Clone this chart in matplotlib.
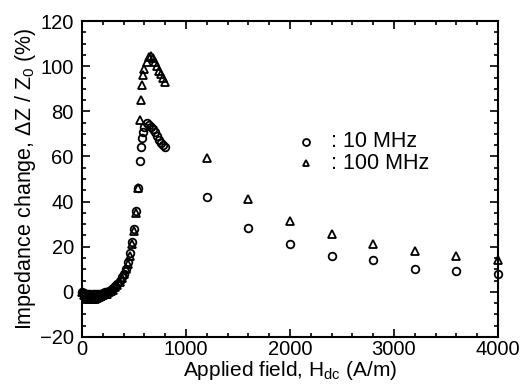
import numpy as np
import matplotlib.pyplot as plt
from matplotlib.ticker import MultipleLocator

plt.rcParams['font.family'] = ['Liberation Sans', 'DejaVu Sans']
plt.rcParams['mathtext.fontset'] = 'custom'
plt.rcParams['mathtext.rm'] = 'Liberation Sans'
plt.rcParams['mathtext.it'] = 'Liberation Sans'

# --- data ---
h_low = [0, 20, 40, 60, 80, 100, 120, 140, 160, 180, 200, 220, 240, 260, 280,
         300, 320, 340, 360, 380, 400, 420, 440, 460, 480, 500, 520, 540, 560,
         570, 580, 590, 600, 620, 640, 660, 680, 700, 720, 740, 760, 780, 800]

z10_low = [0, -0.5, -1, -1, -1.2, -1.2, -1.2, -1, -1, -0.8, -0.5, -0.2, 0, 0.5, 1,
           1.5, 2.5, 3.5, 5, 6.5, 8, 10, 13, 17, 22, 28, 36, 46, 58,
           64, 68, 71, 73, 75, 74, 73, 72, 71, 69, 67.5, 66, 65, 64]

z100_low = [0, -1.5, -2.5, -3, -3.2, -3.2, -3, -2.8, -2.5, -2, -1.6, -1.2, -0.8, -0.3, 0.3,
            1, 2, 3, 4.5, 6, 8, 10, 12.5, 16, 21, 27, 35, 46, 76,
            85, 91.5, 96, 99, 102, 104, 104.5, 103.5, 102, 100, 98, 96.5, 95, 93]

h_high = [1200, 1600, 2000, 2400, 2800, 3200, 3600, 4000]
z10_high = [42, 28.5, 21, 16, 14, 10, 9, 8]
z100_high = [59.5, 41, 31.5, 25.5, 21, 18, 16, 14]

h_all = h_low + h_high
z10 = z10_low + z10_high
z100 = z100_low + z100_high

fig = plt.figure(figsize=(5.23, 3.85), dpi=100)
ax = fig.add_axes([0.157, 0.125, 0.795, 0.82])

mk = dict(linestyle='none', markerfacecolor='none', markeredgecolor='black',
          markersize=5.5, markeredgewidth=1.3)
ax.plot(h_all, z10, marker='o', clip_on=False, **mk)
ax.plot(h_all, z100, marker='^', clip_on=False, **mk)

ax.set_xlim(0, 4000)
ax.set_ylim(-20, 120)
ax.xaxis.set_major_locator(MultipleLocator(1000))
ax.xaxis.set_minor_locator(MultipleLocator(200))
ax.yaxis.set_major_locator(MultipleLocator(20))
ax.yaxis.set_minor_locator(MultipleLocator(5))
ax.tick_params(which='both', direction='in', top=True, right=True,
               labelsize=14.5, width=1.2)
ax.tick_params(axis='y', pad=6)
ax.tick_params(axis='x', pad=2)
ax.tick_params(which='major', length=6)
ax.tick_params(which='minor', length=3)
for s in ax.spines.values():
    s.set_linewidth(1.5)

ax.set_xlabel('Applied field, H$_{\\mathrm{dc}}$ (A/m)', fontsize=15, labelpad=0.5)
ax.set_ylabel('Impedance change, $\\Delta$Z / Z$_0$ (%)', fontsize=15.5, labelpad=1)

# legend drawn as markers + text
leg_mk = dict(mk, markersize=5)
ax.plot([0.538], [0.618], transform=ax.transAxes, marker='o', **leg_mk)
ax.plot([0.538], [0.550], transform=ax.transAxes, marker='^', **leg_mk)
ax.text(0.598, 0.618, ': 10 MHz', transform=ax.transAxes, fontsize=15.5, va='center')
ax.text(0.598, 0.550, ': 100 MHz', transform=ax.transAxes, fontsize=15.5, va='center')

fig.savefig('out.png', dpi=100)
